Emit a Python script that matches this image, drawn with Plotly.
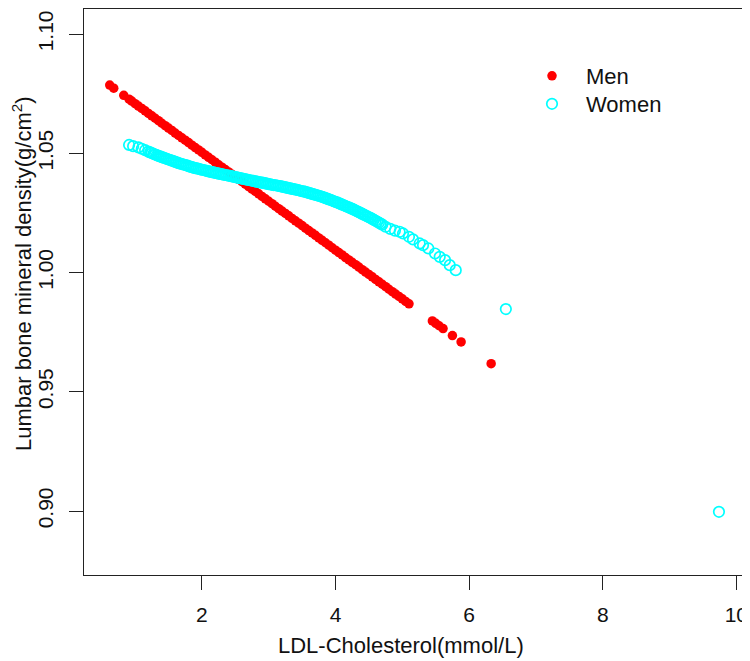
import plotly.graph_objects as go

# ---- Data ----
men_x = [0.62, 0.68, 0.83, 0.91, 0.95, 1.00,
         1.05, 1.10, 1.15, 1.20, 1.25, 1.30, 1.35, 1.40, 1.45, 1.50,
         1.55, 1.60, 1.65, 1.70, 1.75, 1.80, 1.85, 1.90, 1.95, 2.00,
         2.05, 2.10, 2.15, 2.20, 2.25, 2.30, 2.35, 2.40, 2.45, 2.50,
         2.55, 2.60, 2.65, 2.70, 2.75, 2.80, 2.85, 2.90, 2.95, 3.00,
         3.05, 3.10, 3.15, 3.20, 3.25, 3.30, 3.35, 3.40, 3.45, 3.50,
         3.55, 3.60, 3.65, 3.70, 3.75, 3.80, 3.85, 3.90, 3.95, 4.00,
         4.05, 4.10, 4.15, 4.20, 4.25, 4.30, 4.35, 4.40, 4.45, 4.50,
         4.55, 4.60, 4.65, 4.70, 4.75, 4.80, 4.85, 4.90, 4.95, 5.00,
         5.05, 5.10,
         5.45, 5.50, 5.55, 5.61, 5.75, 5.88, 6.33]
men_y = [1.0786, 1.0773, 1.0743, 1.0727, 1.0719, 1.0708,
         1.0698, 1.0688, 1.0678, 1.0667, 1.0657, 1.0647, 1.0637, 1.0626, 1.0616, 1.0606,
         1.0596, 1.0585, 1.0575, 1.0565, 1.0555, 1.0545, 1.0534, 1.0524, 1.0514, 1.0504,
         1.0493, 1.0483, 1.0473, 1.0463, 1.0452, 1.0442, 1.0432, 1.0422, 1.0412, 1.0401,
         1.0391, 1.0381, 1.0371, 1.0360, 1.0350, 1.0340, 1.0330, 1.0319, 1.0309, 1.0299,
         1.0289, 1.0278, 1.0268, 1.0258, 1.0248, 1.0238, 1.0227, 1.0217, 1.0207, 1.0197,
         1.0186, 1.0176, 1.0166, 1.0156, 1.0145, 1.0135, 1.0125, 1.0115, 1.0104, 1.0094,
         1.0084, 1.0074, 1.0063, 1.0053, 1.0043, 1.0033, 1.0023, 1.0012, 1.0002, 0.9992,
         0.9982, 0.9971, 0.9961, 0.9951, 0.9941, 0.9930, 0.9920, 0.9910, 0.9900, 0.9890,
         0.9879, 0.9869,
         0.9797, 0.9787, 0.9777, 0.9765, 0.9736, 0.9709, 0.9618]

women_x = [0.91, 0.97, 1.05, 1.10, 1.15,
           1.200, 1.225, 1.250, 1.275, 1.300, 1.325, 1.350, 1.375, 1.400, 1.425,
           1.450, 1.475, 1.500, 1.525, 1.550, 1.575, 1.600, 1.625, 1.650, 1.675,
           1.700, 1.725, 1.750, 1.775, 1.800, 1.825, 1.850, 1.875, 1.900, 1.925,
           1.950, 1.975, 2.000, 2.025, 2.050, 2.075, 2.100, 2.125, 2.150, 2.175,
           2.200, 2.225, 2.250, 2.275, 2.300, 2.325, 2.350, 2.375, 2.400, 2.425,
           2.450, 2.475, 2.500, 2.525, 2.550, 2.575, 2.600, 2.625, 2.650, 2.675,
           2.700, 2.725, 2.750, 2.775, 2.800, 2.825, 2.850, 2.875, 2.900, 2.925,
           2.950, 2.975, 3.000, 3.025, 3.050, 3.075, 3.100, 3.125, 3.150, 3.175,
           3.200, 3.225, 3.250, 3.275, 3.300, 3.325, 3.350, 3.375, 3.400, 3.425,
           3.450, 3.475, 3.500, 3.525, 3.550, 3.575, 3.600, 3.625, 3.650, 3.675,
           3.700, 3.725, 3.750, 3.775, 3.800, 3.825, 3.850, 3.875, 3.900, 3.925,
           3.950, 3.975, 4.000, 4.025, 4.050, 4.075, 4.100, 4.125, 4.150, 4.175,
           4.200, 4.225, 4.250, 4.275, 4.300, 4.325, 4.350, 4.375, 4.400, 4.425,
           4.450, 4.475, 4.500, 4.525, 4.550, 4.575, 4.600, 4.625, 4.650, 4.675,
           4.700, 4.750,
           4.82, 4.89, 4.96, 5.01, 5.10, 5.16, 5.26, 5.31, 5.39, 5.49,
           5.56, 5.64, 5.71, 5.80, 6.55, 9.74]
women_y = [1.0535, 1.0530, 1.0525, 1.0519, 1.0513,
           1.0507, 1.0504, 1.0501, 1.0498, 1.0495, 1.0492, 1.0489, 1.0487, 1.0484, 1.0482,
           1.0479, 1.0477, 1.0474, 1.0472, 1.0469, 1.0467, 1.0464, 1.0462, 1.0459, 1.0457,
           1.0455, 1.0453, 1.0451, 1.0449, 1.0446, 1.0444, 1.0442, 1.0440, 1.0438, 1.0437,
           1.0435, 1.0433, 1.0431, 1.0430, 1.0428, 1.0426, 1.0424, 1.0423, 1.0421, 1.0420,
           1.0418, 1.0417, 1.0415, 1.0414, 1.0412, 1.0411, 1.0409, 1.0408, 1.0406, 1.0405,
           1.0403, 1.0402, 1.0400, 1.0399, 1.0397, 1.0396, 1.0394, 1.0393, 1.0391, 1.0390,
           1.0388, 1.0387, 1.0385, 1.0384, 1.0382, 1.0381, 1.0379, 1.0378, 1.0377, 1.0376,
           1.0374, 1.0373, 1.0371, 1.0370, 1.0368, 1.0367, 1.0366, 1.0365, 1.0363, 1.0362,
           1.0360, 1.0359, 1.0357, 1.0356, 1.0354, 1.0353, 1.0351, 1.0350, 1.0348, 1.0347,
           1.0345, 1.0343, 1.0341, 1.0340, 1.0338, 1.0336, 1.0334, 1.0332, 1.0330, 1.0328,
           1.0326, 1.0324, 1.0322, 1.0320, 1.0317, 1.0315, 1.0312, 1.0310, 1.0307, 1.0305,
           1.0302, 1.0299, 1.0296, 1.0294, 1.0291, 1.0288, 1.0285, 1.0282, 1.0279, 1.0276,
           1.0273, 1.0270, 1.0267, 1.0264, 1.0260, 1.0257, 1.0253, 1.0250, 1.0246, 1.0243,
           1.0239, 1.0236, 1.0232, 1.0229, 1.0225, 1.0221, 1.0217, 1.0213, 1.0209, 1.0205,
           1.0201, 1.0192,
           1.0183, 1.0176, 1.0171, 1.0164, 1.0150, 1.0139, 1.0122, 1.0115, 1.0101, 1.0080,
           1.0066, 1.0052, 1.0031, 1.0010, 0.9847, 0.8997]

x_ticks = [2, 4, 6, 8, 10]
y_ticks = [0.90, 0.95, 1.00, 1.05, 1.10]
x_title = "LDL-Cholesterol(mmol/L)"
y_title = "Lumbar bone mineral density(g/cm<sup>2</sup>)"

FONT = "Liberation Sans, Arial, Helvetica, sans-serif"
INK = "#111111"

# page body adds an 8px offset; figure is sized so the plot lands where the reference has it
W, H = 742, 653
ML, MR, MT, MB = 76, 8, 1, 86
PW, PH = W - ML - MR, H - MT - MB


def px(xp):  # figure x pixel -> paper
    return (xp - ML) / PW


def py(yp):  # figure y pixel -> paper
    return (H - MB - yp) / PH


fig = go.Figure()
fig.add_trace(go.Scatter(
    x=men_x, y=men_y, mode="markers", name="Men", legend="legend",
    marker=dict(symbol="circle", size=9.5, color="#FF0000", line=dict(width=0)),
))
fig.add_trace(go.Scatter(
    x=women_x, y=women_y, mode="markers", name="Women", legend="legend2",
    marker=dict(symbol="circle-open", size=10.5, color="#00FFFF",
                line=dict(width=1.7, color="#00FFFF")),
))

axis_common = dict(
    showgrid=False, zeroline=False, showline=True, mirror=True,
    linecolor="#222222", linewidth=1, ticks="outside", ticklen=14,
    tickwidth=1, tickcolor="#222222", automargin=False,
    tickfont=dict(family=FONT, size=21, color=INK),
)

legend_common = dict(xanchor="left", yanchor="middle", itemwidth=58,
                     bgcolor="rgba(0,0,0,0)", borderwidth=0,
                     font=dict(family=FONT, size=22, color=INK))

fig.update_layout(
    width=W, height=H,
    margin=dict(l=ML, r=MR, t=MT, b=MB),
    plot_bgcolor="white", paper_bgcolor="white",
    font=dict(family=FONT, size=22, color=INK),
    xaxis=dict(range=[0.235, 10.085], tickvals=x_ticks,
               ticktext=[str(v) for v in x_ticks], ticklabelstandoff=7,
               **axis_common),
    yaxis=dict(range=[0.8732, 1.1105], tickvals=y_ticks,
               ticktext=[f"{v:.2f}" for v in y_ticks], tickangle=-90,
               ticklabelstandoff=8, **axis_common),
    legend=dict(x=px(544 - 34), y=py(68), **legend_common),
    legend2=dict(x=px(544 - 34), y=py(96), **legend_common),
    showlegend=True,
    annotations=[
        dict(text=x_title, xref="paper", yref="paper",
             x=px(393), y=py(637),
             xanchor="center", yanchor="middle", showarrow=False,
             font=dict(family=FONT, size=22, color=INK)),
        dict(text=y_title, xref="paper", yref="paper", textangle=-90,
             x=px(14), y=py(266),
             xanchor="center", yanchor="middle", showarrow=False,
             font=dict(family=FONT, size=22, color=INK)),
    ],
)

fig.write_html("out.html")
